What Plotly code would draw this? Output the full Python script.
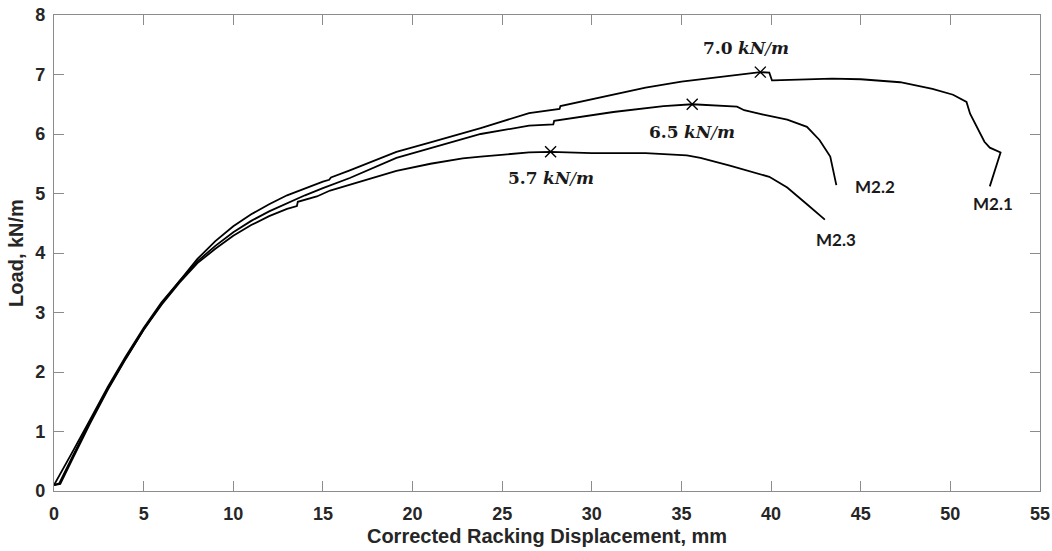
import plotly.graph_objects as go

# Load–displacement curves for the three racking tests (mm, kN/m)
m21_x = [0, 0.35, 1.0, 2.0, 3.0, 4.0, 5.0, 6.0, 7.0, 8.0, 9.0, 10.0, 11.0, 12.0, 13.0,
         14.0, 15.0, 15.35, 15.45, 16.5, 19.1, 21.0, 22.8, 23.8, 26.5, 28.2, 28.25, 30.0,
         31.6, 33.0, 35.0, 37.5, 38.5, 39.4, 39.9, 40.05, 40.1, 43.4, 45.0, 47.2, 49.0,
         50.15, 50.9, 51.1, 51.9, 52.2, 52.8, 52.2]
m21_y = [0.10, 0.12, 0.52, 1.13, 1.70, 2.22, 2.71, 3.15, 3.53, 3.90, 4.20, 4.45, 4.65,
         4.82, 4.97, 5.09, 5.20, 5.23, 5.27, 5.39, 5.70, 5.86, 6.01, 6.10, 6.35, 6.42, 6.47,
         6.58, 6.68, 6.78, 6.88, 6.97, 7.01, 7.04, 7.03, 6.90, 6.90, 6.93, 6.92, 6.87, 6.76,
         6.66, 6.54, 6.34, 5.87, 5.77, 5.69, 5.12]

m22_x = [0, 0.5, 1.0, 2.0, 3.0, 4.0, 5.0, 6.0, 7.0, 8.0, 9.0, 10.0, 11.0, 12.0, 13.0,
         14.0, 15.0, 16.5, 19.1, 22.8, 23.8, 26.5, 27.85, 27.9, 31.2, 34.0, 35.6, 38.1,
         38.5, 39.5, 40.9, 42.0, 42.7, 43.3, 43.64]
m22_y = [0.10, 0.38, 0.64, 1.19, 1.75, 2.26, 2.74, 3.17, 3.53, 3.86, 4.12, 4.35, 4.54,
         4.70, 4.84, 4.97, 5.09, 5.26, 5.60, 5.91, 6.00, 6.14, 6.16, 6.22, 6.37, 6.47, 6.50,
         6.46, 6.40, 6.33, 6.24, 6.12, 5.90, 5.62, 5.14]

m23_x = [0, 0.3, 1.0, 2.0, 3.0, 4.0, 5.0, 6.0, 7.0, 8.0, 9.0, 10.0, 11.0, 12.0, 13.0,
         13.55, 13.6, 14.66, 15.4, 16.5, 19.1, 21.0, 22.8, 23.8, 26.5, 27.7, 30.0, 33.0,
         35.3, 36.06, 37.7, 39.9, 40.9, 42.0, 43.0]
m23_y = [0.10, 0.13, 0.56, 1.16, 1.72, 2.23, 2.71, 3.13, 3.50, 3.83, 4.07, 4.29, 4.47,
         4.62, 4.74, 4.79, 4.86, 4.95, 5.05, 5.15, 5.38, 5.50, 5.59, 5.62, 5.69, 5.70, 5.68,
         5.68, 5.64, 5.60, 5.47, 5.28, 5.10, 4.82, 4.56]

# Peak loads and where they occur
peak_x = [39.4, 35.6, 27.7]
peak_y = [7.04, 6.50, 5.70]
peak_text_pos = [(38.6, 7.45), (35.6, 6.03), (27.7, 5.26)]

# Specimen names at the end of each curve
spec_names = ["M2.1", "M2.2", "M2.3"]
spec_pos = [(52.4, 4.83), (45.8, 5.12), (43.6, 4.23)]

x_ticks = list(range(0, 56, 5))
y_ticks = list(range(0, 9))

fig = go.Figure()
for xs, ys, name in [(m21_x, m21_y, "M2.1"), (m22_x, m22_y, "M2.2"), (m23_x, m23_y, "M2.3")]:
    fig.add_trace(go.Scatter(x=xs, y=ys, mode="lines", name=name,
                             line=dict(color="black", width=1.8), showlegend=False))

fig.add_trace(go.Scatter(x=peak_x, y=peak_y, mode="markers", showlegend=False,
                         marker=dict(symbol="x-thin", size=11, color="black",
                                     line=dict(color="black", width=1.4))))

for (tx, ty), v in zip(peak_text_pos, peak_y):
    fig.add_annotation(x=tx, y=ty, xref="x", yref="y", showarrow=False,
                       text=f"<b>{v:.1f}</b> <b><i>kN</i></b><i>/</i><b><i>m</i></b>",
                       font=dict(family="DejaVu Serif", size=17, color="#1a1a1a"))

for (tx, ty), name in zip(spec_pos, spec_names):
    fig.add_annotation(x=tx, y=ty, xref="x", yref="y", showarrow=False,
                       text=f"<b>{name}</b>",
                       font=dict(family="Lato", size=17, color="#1a1a1a"))

axis_common = dict(
    showgrid=False, zeroline=False, showline=True, linecolor="#8c8c8c", linewidth=1.2,
    mirror="ticks", ticks="inside", ticklen=10, tickwidth=1.2, tickcolor="#8c8c8c",
    automargin=False,
    tickfont=dict(family="Liberation Sans", size=18, color="#262626", weight="bold"),
)

fig.update_xaxes(range=[0, 55], tickvals=x_ticks, ticktext=[str(t) for t in x_ticks],
                 title=dict(text="<b>Corrected Racking Displacement, mm</b>", standoff=6,
                            font=dict(family="Liberation Sans", size=20, color="#262626")),
                 ticklabelstandoff=6, **axis_common)
fig.update_yaxes(range=[0, 8], tickvals=y_ticks, ticktext=[str(t) for t in y_ticks],
                 title=dict(text="<b>Load, kN/m</b>", standoff=6,
                            font=dict(family="Liberation Sans", size=20, color="#262626")),
                 ticklabelstandoff=4, **axis_common)

fig.update_layout(
    width=1052, height=551,
    margin=dict(l=54, r=12, t=15, b=60),
    paper_bgcolor="white", plot_bgcolor="white",
)

fig.write_html("out.html")
